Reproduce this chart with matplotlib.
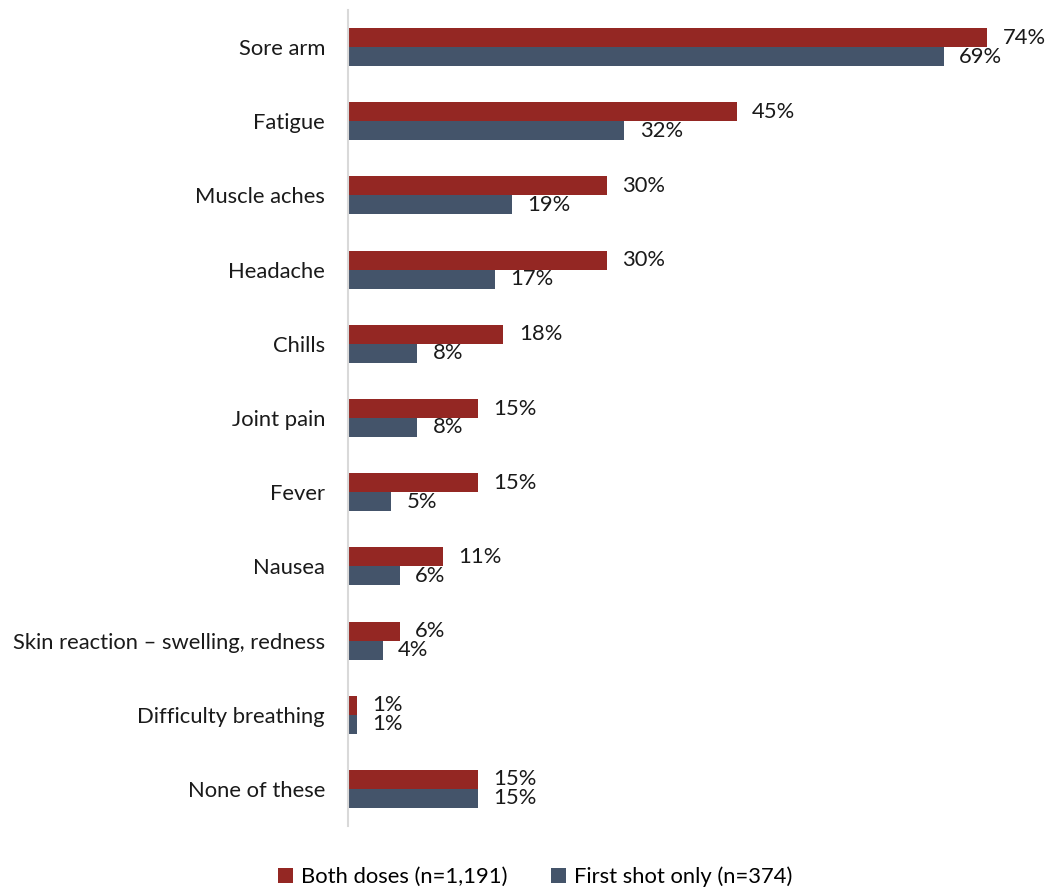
import matplotlib
matplotlib.use("Agg")
import matplotlib.pyplot as plt
import numpy as np
from matplotlib.patches import Patch

categories = ["Sore arm", "Fatigue", "Muscle aches", "Headache", "Chills", "Joint pain",
              "Fever", "Nausea", "Skin reaction \u2013 swelling, redness",
              "Difficulty breathing", "None of these"]
both_doses = [74, 45, 30, 30, 18, 15, 15, 11, 6, 1, 15]
first_shot = [69, 32, 19, 17, 8, 8, 5, 6, 4, 1, 15]
series_names = ["Both doses (n=1,191)", "First shot only (n=374)"]

RED = "#942723"
BLUE = "#44546A"
FS = 15.8

plt.rcParams['font.family'] = ['Lato', 'DejaVu Sans']

fig = plt.figure(figsize=(10.47, 8.88), dpi=100)
ax = fig.add_axes([348/1047, 1-826/888, (1039-348)/1047, (826-10)/888])

y = np.arange(len(categories))
h = 0.256
ax.barh(y - h/2, both_doses, height=h, color=RED)
ax.barh(y + h/2, first_shot, height=h, color=BLUE)

for yi, v in zip(y, both_doses):
    ax.annotate(f"{v}%", (v, yi - h/2), xytext=(11, 0), textcoords="offset points",
                va="center", ha="left", fontsize=FS, color="#1a1a1a")
for yi, v in zip(y, first_shot):
    ax.annotate(f"{v}%", (v, yi + h/2), xytext=(11, 0), textcoords="offset points",
                va="center", ha="left", fontsize=FS, color="#1a1a1a")

ax.set_xlim(0, 80)
ax.set_ylim(len(categories) - 0.5, -0.5)
ax.set_yticks(y)
ax.set_yticklabels(categories, fontsize=FS, color="#1a1a1a")
ax.tick_params(axis="y", length=0, pad=16.5)
ax.set_xticks([])
for s in ["top", "right", "bottom"]:
    ax.spines[s].set_visible(False)
ax.spines["left"].set_color("#d9d9d9")
ax.spines["left"].set_linewidth(1.5)

handles = [Patch(facecolor=RED, label=series_names[0]),
           Patch(facecolor=BLUE, label=series_names[1])]
fig.legend(handles=handles, loc="center", bbox_to_anchor=(535/1047, 1-877/888), ncol=2,
           frameon=False, fontsize=FS, handlelength=0.7, handleheight=0.7,
           handletextpad=0.35, columnspacing=2.0)

fig.savefig("out.png", dpi=100)
